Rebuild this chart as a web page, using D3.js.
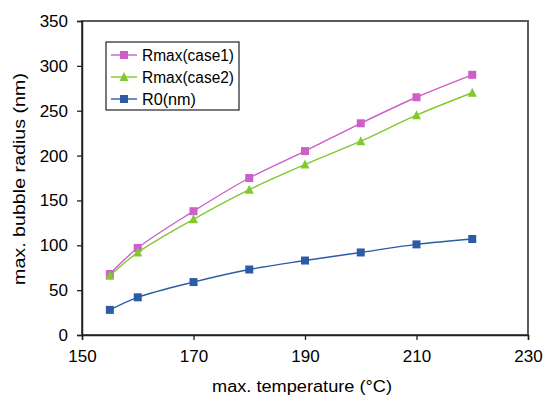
<!DOCTYPE html>
<html>
<head>
<meta charset="utf-8">
<script src="https://cdn.jsdelivr.net/npm/d3@7"></script>
<style>
  body { margin: 0; background: #fff; }
  text { font-family: "Liberation Sans", Arial, sans-serif; fill: #000; }
</style>
</head>
<body>
<svg class="chart"></svg>
<script>
let width = 544;
let height = 397;

// data
let temps = [155, 160, 170, 180, 190, 200, 210, 220];
let rmaxCase1 = [68, 97, 138, 175, 205, 236, 265, 290];
let rmaxCase2 = [66, 92, 129, 162, 190, 216, 245, 270];
let r0 = [28, 42, 59, 73, 83, 92, 101, 107];

let xTicks = [150, 170, 190, 210, 230];
let yTicks = [0, 50, 100, 150, 200, 250, 300, 350];

let series = [
  { name: "Rmax(case1)", values: rmaxCase1, color: "#cc5fc8", marker: "square" },
  { name: "Rmax(case2)", values: rmaxCase2, color: "#82c92e", marker: "triangle" },
  { name: "R0(nm)", values: r0, color: "#2c5ca6", marker: "square" }
];

let margin = { top: 21, right: 16, bottom: 62, left: 82 };

let svg = d3.select(".chart")
  .attr("width", width)
  .attr("height", height);

let x = d3.scaleLinear().domain([150, 230]).range([margin.left, width - margin.right]);
let y = d3.scaleLinear().domain([0, 350]).range([height - margin.bottom, margin.top]);

// frame
svg.append("rect")
  .attr("x", x(150))
  .attr("y", y(350))
  .attr("width", x(230) - x(150))
  .attr("height", y(0) - y(350))
  .attr("fill", "none")
  .attr("stroke", "#5a5a5a")
  .attr("stroke-width", 2);

// axes
let xAxis = svg.append("g")
  .attr("transform", "translate(0," + y(0) + ")")
  .call(d3.axisBottom(x).tickValues(xTicks).tickSize(5).tickPadding(10));

let yAxis = svg.append("g")
  .attr("transform", "translate(" + x(150) + ",0)")
  .call(d3.axisLeft(y).tickValues(yTicks).tickSize(5).tickPadding(9));

[xAxis, yAxis].forEach(function(a) {
  a.select(".domain").attr("stroke", "#222").attr("stroke-width", 1.5);
  a.selectAll(".tick line").attr("stroke", "#222").attr("stroke-width", 1.3);
  a.selectAll(".tick text")
    .style("font-size", "17px")
    .style("font-family", "'Liberation Sans', Arial, sans-serif")
    .attr("fill", "#000");
});

// axis titles (the source text is a little stretched along its length)
svg.append("text")
  .attr("x", 212)
  .attr("y", 392)
  .attr("textLength", 180)
  .attr("lengthAdjust", "spacingAndGlyphs")
  .style("font-size", "16px")
  .text("max. temperature (°C)");

svg.append("text")
  .attr("transform", "translate(25,285) rotate(-90)")
  .attr("textLength", 212)
  .attr("lengthAdjust", "spacingAndGlyphs")
  .style("font-size", "17px")
  .text("max. bubble radius (nm)");

let line = d3.line()
  .x(function(d, i) { return x(temps[i]); })
  .y(function(d) { return y(d); })
  .curve(d3.curveCatmullRom.alpha(0.5));

function drawMarker(g, type, cx, cy, color) {
  if (type === "square") {
    g.append("rect")
      .attr("x", cx - 4)
      .attr("y", cy - 4)
      .attr("width", 8)
      .attr("height", 8)
      .attr("fill", color);
  } else {
    g.append("path")
      .attr("d", "M" + cx + "," + (cy - 5) + "L" + (cx + 4.5) + "," + (cy + 4) + "L" + (cx - 4.5) + "," + (cy + 4) + "Z")
      .attr("fill", color);
  }
}

series.forEach(function(s) {
  let g = svg.append("g");
  g.append("path")
    .datum(s.values)
    .attr("d", line)
    .attr("fill", "none")
    .attr("stroke", s.color)
    .attr("stroke-width", 1.4);
  s.values.forEach(function(v, i) {
    drawMarker(g, s.marker, x(temps[i]), y(v), s.color);
  });
});

// legend
let legend = svg.append("g");
legend.append("rect")
  .attr("x", 106)
  .attr("y", 42)
  .attr("width", 133)
  .attr("height", 68)
  .attr("fill", "#fff")
  .attr("stroke", "#333")
  .attr("stroke-width", 1.3);

series.forEach(function(s, i) {
  let ly = 55 + i * 22;
  legend.append("line")
    .attr("x1", 111)
    .attr("x2", 137)
    .attr("y1", ly)
    .attr("y2", ly)
    .attr("stroke", s.color)
    .attr("stroke-width", 1.4);
  drawMarker(legend, s.marker, 124, ly, s.color);
  legend.append("text")
    .attr("x", 142)
    .attr("y", ly + 6)
    .attr("textLength", 92)
    .attr("lengthAdjust", "spacingAndGlyphs")
    .style("font-size", "16px")
    .text(s.name)
    .attr("textLength", s.name.length === 11 ? 92 : 54);
});
</script>
</body>
</html>
